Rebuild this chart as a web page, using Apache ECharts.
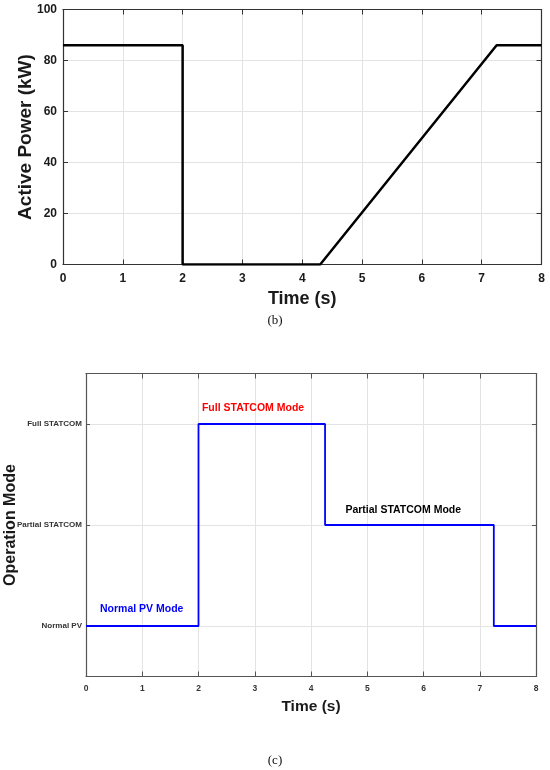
<!DOCTYPE html>
<html>
<head>
<meta charset="utf-8">
<script src="https://cdn.jsdelivr.net/npm/echarts@6/dist/echarts.min.js"></script>
<style>
html,body{margin:0;padding:0;background:#fff;}
#c{width:550px;height:770px;}
</style>
</head>
<body>
<div id="c"></div>
<script>
// ---- Data ----
var timeTicks = [0, 1, 2, 3, 4, 5, 6, 7, 8];
var powerTimes = [0, 2, 2, 4.3, 7.25, 8];
var powerValues = [86, 86, 0, 0, 86, 86];
var modeNames = ['Normal PV', 'Partial STATCOM', 'Full STATCOM'];
var modeLevels = [1, 2, 3];
var modeTimes = [0, 2, 2, 4.25, 4.25, 7.25, 7.25, 8];
var modeValues = [1, 1, 3, 3, 2, 2, 1, 1];
var annoText = ['Full STATCOM Mode', 'Partial STATCOM Mode', 'Normal PV Mode'];
var annoX = [2.97, 5.64, 0.99];
var annoY = [3.16, 2.15, 1.17];
var annoColor = ['#ff0000', '#000000', '#0000ff'];

var F = "'Liberation Sans', Arial, sans-serif";

function zip(a, b) { return a.map(function (v, i) { return [v, b[i]]; }); }

var chart = echarts.init(document.getElementById('c'), null, {renderer: 'canvas'});

var gridLine = {show: true, lineStyle: {color: '#e3e3e3', width: 1}};

var option = {
  backgroundColor: '#ffffff',
  animation: false,
  title: [
    {text: '(b)', left: 'center', top: 309, textStyle: {fontFamily: "'Liberation Serif', 'Times New Roman', serif", fontSize: 13, fontWeight: 'normal', color: '#111'}},
    {text: '(c)', left: 'center', top: 749, textStyle: {fontFamily: "'Liberation Serif', 'Times New Roman', serif", fontSize: 13, fontWeight: 'normal', color: '#111'}}
  ],
  grid: [
    {left: 63, top: 9.5, right: 8.5, height: 255, containLabel: false, outerBoundsMode: 'none'},
    {left: 86, top: 373.5, right: 14, height: 303, containLabel: false, outerBoundsMode: 'none'}
  ],
  xAxis: [
    {
      gridIndex: 0, type: 'value', min: 0, max: 8, interval: 1,
      axisLine: {show: true, onZero: false, lineStyle: {color: '#333', width: 1.2}},
      axisTick: {show: true, inside: true, length: 5, lineStyle: {color: '#333'}},
      axisLabel: {fontFamily: F, fontSize: 12, fontWeight: 'bold', color: '#1a1a1a', margin: 8},
      splitLine: gridLine,
      name: 'Time (s)', nameLocation: 'middle', nameGap: 26, nameMoveOverlap: false,
      nameTextStyle: {fontFamily: F, fontSize: 18, fontWeight: 'bold', color: '#1a1a1a', verticalAlign: 'top'}
    },
    {
      gridIndex: 0, type: 'value', min: 0, max: 8, interval: 1, position: 'top',
      axisLine: {show: true, onZero: false, lineStyle: {color: '#333', width: 1.2}},
      axisTick: {show: true, inside: true, length: 5, lineStyle: {color: '#333'}},
      axisLabel: {show: false}, splitLine: {show: false}
    },
    {
      gridIndex: 1, type: 'value', min: 0, max: 8, interval: 1,
      axisLine: {show: true, onZero: false, lineStyle: {color: '#555', width: 1.2}},
      axisTick: {show: true, inside: true, length: 5, lineStyle: {color: '#555'}},
      axisLabel: {fontFamily: F, fontSize: 8.5, fontWeight: 'bold', color: '#333', margin: 8},
      splitLine: gridLine,
      name: 'Time (s)', nameLocation: 'middle', nameGap: 22, nameMoveOverlap: false,
      nameTextStyle: {fontFamily: F, fontSize: 15.5, fontWeight: 'bold', color: '#1a1a1a', verticalAlign: 'top'}
    },
    {
      gridIndex: 1, type: 'value', min: 0, max: 8, interval: 1, position: 'top',
      axisLine: {show: true, onZero: false, lineStyle: {color: '#555', width: 1.2}},
      axisTick: {show: true, inside: true, length: 5, lineStyle: {color: '#555'}},
      axisLabel: {show: false}, splitLine: {show: false}
    }
  ],
  yAxis: [
    {
      gridIndex: 0, type: 'value', min: 0, max: 100, interval: 20,
      axisLine: {show: true, onZero: false, lineStyle: {color: '#333', width: 1.2}},
      axisTick: {show: true, inside: true, length: 5, lineStyle: {color: '#333'}},
      axisLabel: {fontFamily: F, fontSize: 12, fontWeight: 'bold', color: '#1a1a1a', margin: 6},
      splitLine: gridLine,
      name: 'Active Power (kW)', nameLocation: 'middle', nameGap: 28, nameMoveOverlap: false,
      nameTextStyle: {fontFamily: F, fontSize: 19, fontWeight: 'bold', color: '#1a1a1a'}
    },
    {
      gridIndex: 0, type: 'value', min: 0, max: 100, interval: 20, position: 'right',
      axisLine: {show: true, onZero: false, lineStyle: {color: '#333', width: 1.2}},
      axisTick: {show: true, inside: true, length: 5, lineStyle: {color: '#333'}},
      axisLabel: {show: false}, splitLine: {show: false}
    },
    {
      gridIndex: 1, type: 'value', min: 0.5, max: 3.5,
      axisLine: {show: true, onZero: false, lineStyle: {color: '#555', width: 1.2}},
      axisTick: {show: true, inside: true, length: 4, customValues: modeLevels, lineStyle: {color: '#555'}},
      axisLabel: {
        customValues: modeLevels, fontFamily: F, fontSize: 8, fontWeight: 'bold', color: '#333', margin: 4,
        formatter: function (v) { var i = modeLevels.indexOf(Math.round(v)); return i >= 0 ? modeNames[i] : ''; }
      },
      splitLine: gridLine,
      name: 'Operation Mode', nameLocation: 'middle', nameGap: 67, nameMoveOverlap: false,
      nameTextStyle: {fontFamily: F, fontSize: 16, fontWeight: 'bold', color: '#1a1a1a'}
    },
    {
      gridIndex: 1, type: 'value', min: 0.5, max: 3.5, position: 'right',
      axisLine: {show: true, onZero: false, lineStyle: {color: '#555', width: 1.2}},
      axisTick: {show: true, inside: true, length: 4, customValues: modeLevels, lineStyle: {color: '#555'}},
      axisLabel: {show: false}, splitLine: {show: false}
    }
  ],
  series: [
    {
      type: 'line', xAxisIndex: 0, yAxisIndex: 0, data: zip(powerTimes, powerValues),
      showSymbol: false, symbol: 'none', lineStyle: {color: '#000', width: 2.5}, z: 5
    },
    {
      type: 'line', xAxisIndex: 2, yAxisIndex: 2, data: zip(modeTimes, modeValues),
      showSymbol: false, symbol: 'none', lineStyle: {color: '#0000ff', width: 1.8}, z: 5
    },
    {
      type: 'scatter', xAxisIndex: 2, yAxisIndex: 2, symbolSize: 1,
      itemStyle: {color: 'rgba(255,255,255,0)', opacity: 1}, silent: true,
      data: annoText.map(function (t, i) {
        return {value: [annoX[i], annoY[i]], name: t,
          label: {show: true, position: 'inside', formatter: t, color: annoColor[i], opacity: 1,
            textBorderWidth: 0, fontFamily: F, fontSize: 10.5, fontWeight: 'bold'}};
      }),
      z: 6
    }
  ]
};
chart.setOption(option);
</script>
</body>
</html>
